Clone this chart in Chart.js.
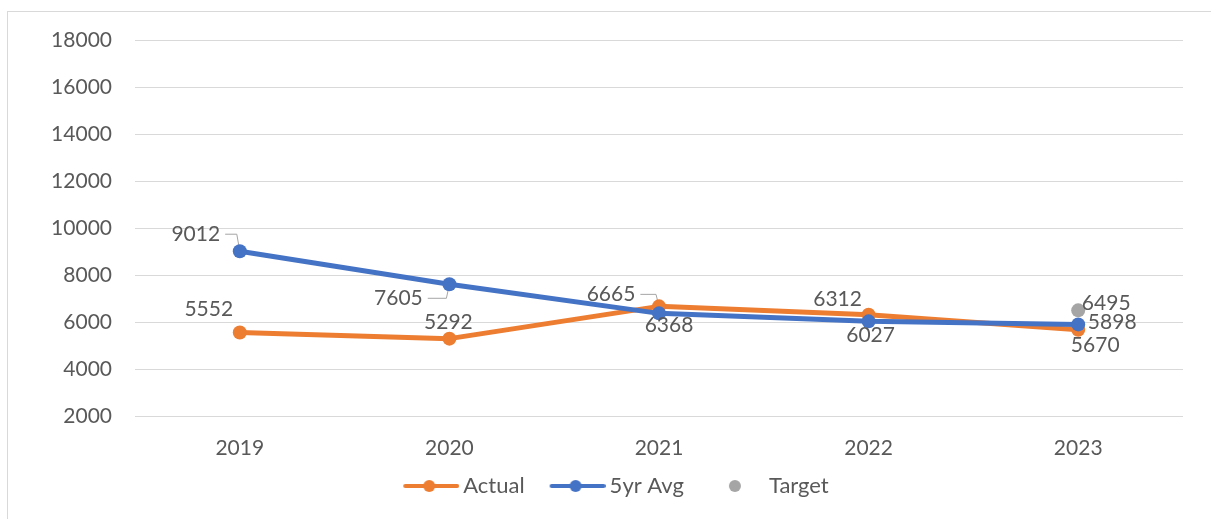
<!DOCTYPE html>
<html>
<head>
<meta charset="utf-8">
<script src="https://cdn.jsdelivr.net/npm/chart.js@4.4.1/dist/chart.umd.min.js"></script>
<style>
  html, body { margin: 0; padding: 0; background: #ffffff; overflow: hidden; }
  #wrap { position: relative; width: 1211px; height: 519px; }
  #frame { position: absolute; left: 7px; top: 11px; width: 1400px; height: 700px; border: 1px solid #d9d9d9; pointer-events: none; }
  canvas { position: absolute; left: 0; top: 0; }
</style>
</head>
<body>
<div id="wrap">
  <canvas id="c" width="1211" height="519"></canvas>
  <div id="frame"></div>
</div>
<script>
// ---- data ----
const years = ['2019', '2020', '2021', '2022', '2023'];
const actualValues = [5552, 5292, 6665, 6312, 5670];
const fiveYrAvgValues = [9012, 7605, 6368, 6027, 5898];
const targetValues = [null, null, null, null, 6495];
const yTickValues = [2000, 4000, 6000, 8000, 10000, 12000, 14000, 16000, 18000];
const seriesNames = ['Actual', '5yr Avg', 'Target'];

// ---- styles ----
const ORANGE = '#ED7D31', BLUE = '#4472C4', GRAY = '#A5A5A5', TEXT = '#595959', GRID = '#D9D9D9';
const FONT = 'Lato';
const FS = 21;
const LEGEND_SHIFT = 17;
Chart.defaults.font.family = FONT;
Chart.defaults.color = TEXT;

// label placement relative to each point (style only)
const labelOffsets = [
  [[-31, -23], [-1, -16], [-48, -12], [-31, -15], [17, 15]],
  [[-44, -17], [-51, 14], [10, 12], [2, 14], [34, -2]],
  [[0, 0], [0, 0], [0, 0], [0, 0], [28, -7]]
];
const leaderFlags = [
  [false, false, true, false, false],
  [true, true, false, false, false],
  [false, false, false, false, false]
];

function legendImage(color, withLine) {
  const c = document.createElement('canvas');
  c.width = 78; c.height = 20;
  const g = c.getContext('2d');
  if (withLine) {
    g.strokeStyle = color; g.lineWidth = 4; g.lineCap = 'round';
    g.beginPath(); g.moveTo(24, 10); g.lineTo(76, 10); g.stroke();
  }
  g.fillStyle = color;
  g.beginPath(); g.arc(48, 10, 6, 0, Math.PI * 2); g.fill();
  return c;
}
const legendImgs = [legendImage(ORANGE, true), legendImage(BLUE, true), legendImage(GRAY, false)];

const legendShiftPlugin = {
  id: 'legendShift',
  afterLayout(chart) {
    if (chart.legend) { chart.legend.left += LEGEND_SHIFT; chart.legend.right += LEGEND_SHIFT; }
  }
};

const dataLabelPlugin = {
  id: 'dataLabels',
  beforeDatasetsDraw(chart) {
    const ctx = chart.ctx;
    ctx.save();
    ctx.font = FS + 'px ' + FONT;
    ctx.strokeStyle = GRAY; ctx.lineWidth = 1;
    chart.data.datasets.forEach((ds, d) => {
      const meta = chart.getDatasetMeta(d);
      meta.data.forEach((pt, i) => {
        if (ds.data[i] == null || !leaderFlags[d][i]) return;
        const [dx, dy] = labelOffsets[d][i];
        const lx = pt.x + dx, ly = pt.y + dy;
        const w = ctx.measureText(String(ds.data[i])).width;
        ctx.beginPath();
        ctx.moveTo(lx + w / 2 + 5, ly);
        ctx.lineTo(pt.x - 3, ly);
        ctx.lineTo(pt.x, pt.y);
        ctx.stroke();
      });
    });
    ctx.restore();
  },
  afterDatasetsDraw(chart) {
    const ctx = chart.ctx;
    ctx.save();
    ctx.font = FS + 'px ' + FONT;
    ctx.fillStyle = TEXT;
    ctx.textAlign = 'center';
    ctx.textBaseline = 'middle';
    chart.data.datasets.forEach((ds, d) => {
      const meta = chart.getDatasetMeta(d);
      meta.data.forEach((pt, i) => {
        if (ds.data[i] == null) return;
        const [dx, dy] = labelOffsets[d][i];
        ctx.fillText(String(ds.data[i]), pt.x + dx, pt.y + dy);
      });
    });
    ctx.restore();
  }
};

new Chart(document.getElementById('c'), {
  type: 'line',
  data: {
    labels: years,
    datasets: [
      {
        label: seriesNames[0], data: actualValues, order: 3,
        borderColor: ORANGE, backgroundColor: ORANGE, borderWidth: 5,
        pointRadius: 7, pointBorderWidth: 0, pointBackgroundColor: ORANGE,
        borderJoinStyle: 'round', borderCapStyle: 'round', tension: 0
      },
      {
        label: seriesNames[1], data: fiveYrAvgValues, order: 2,
        borderColor: BLUE, backgroundColor: BLUE, borderWidth: 5,
        pointRadius: 7, pointBorderWidth: 0, pointBackgroundColor: BLUE,
        borderJoinStyle: 'round', borderCapStyle: 'round', tension: 0
      },
      {
        label: seriesNames[2], data: targetValues, order: 1, showLine: false,
        borderColor: GRAY, backgroundColor: GRAY,
        pointRadius: 7, pointBorderWidth: 0, pointBackgroundColor: GRAY
      }
    ]
  },
  options: {
    responsive: false,
    animation: false,
    layout: { padding: { top: 40, right: 28, bottom: 12, left: 0 } },
    plugins: {
      tooltip: { enabled: false },
      legend: {
        position: 'bottom',
        labels: {
          usePointStyle: true,
          pointStyleWidth: 64,
          padding: 10,
          color: TEXT,
          font: { size: 22, family: FONT },
          generateLabels(chart) {
            const items = Chart.defaults.plugins.legend.labels.generateLabels(chart);
            items.sort((a, b) => a.datasetIndex - b.datasetIndex);
            items.forEach(it => { it.pointStyle = legendImgs[it.datasetIndex]; it.fontColor = TEXT; });
            return items;
          }
        }
      }
    },
    scales: {
      x: {
        offset: true,
        grid: { display: false, drawTicks: false },
        border: { display: false },
        ticks: { padding: 20, color: TEXT, font: { size: FS } },
        afterFit(scale) { scale.height = 49; }
      },
      y: {
        min: 2000, max: 18000,
        afterBuildTicks(scale) { scale.ticks = yTickValues.map(v => ({ value: v })); },
        grid: { color: GRID, lineWidth: 1, drawTicks: false },
        border: { display: false },
        ticks: { padding: 23, color: TEXT, font: { size: FS }, callback: v => String(v) },
        afterFit(scale) { scale.width = 135; }
      }
    }
  },
  plugins: [dataLabelPlugin, legendShiftPlugin]
});
</script>
</body>
</html>
